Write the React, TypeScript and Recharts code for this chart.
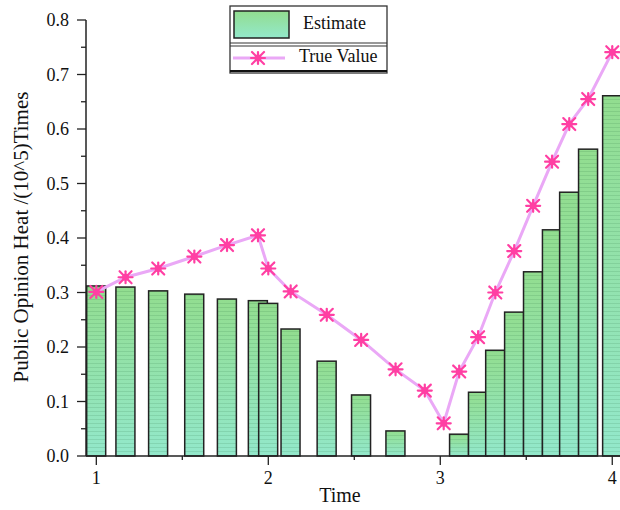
import React from 'react';
import { ComposedChart, Bar, Line, XAxis, YAxis } from 'recharts';

// time points (shared by both series)
const times = [1.0, 1.17, 1.36, 1.57, 1.76, 1.94, 2.0, 2.13, 2.34, 2.54, 2.74, 2.91, 3.02, 3.11, 3.22, 3.32, 3.43, 3.54, 3.65, 3.75, 3.86, 4.0];
// estimate bars (none at 2.91 and 3.02)
const estimate = [0.312, 0.310, 0.303, 0.297, 0.288, 0.285, 0.280, 0.233, 0.174, 0.112, 0.046, null, null, 0.040, 0.117, 0.194, 0.264, 0.338, 0.415, 0.484, 0.563, 0.661];
const trueValue = [0.301, 0.328, 0.344, 0.366, 0.387, 0.405, 0.344, 0.302, 0.259, 0.213, 0.159, 0.120, 0.060, 0.155, 0.218, 0.300, 0.376, 0.459, 0.540, 0.609, 0.655, 0.741];

const xTicks = [1, 1.5, 2, 2.5, 3, 3.5, 4];
const yTicks = [0, 0.05, 0.1, 0.15, 0.2, 0.25, 0.3, 0.35, 0.4, 0.45, 0.5, 0.55, 0.6, 0.65, 0.7, 0.75, 0.8];

const data = times.map((t, i) => ({ time: t, estimate: estimate[i], trueValue: trueValue[i] }));

const FONT = '"Liberation Serif", "Times New Roman", serif';
const LINE_COLOR = '#eaa8f6';
const MARK_COLOR = '#ff3fa3';
const BAR_W = 19;

function Star({ cx, cy }: { cx: number; cy: number }) {
  if (cx == null || cy == null) return null;
  return (
    <g stroke={MARK_COLOR} strokeWidth={2.2} strokeLinecap="round">
      <line x1={cx - 6} y1={cy - 6} x2={cx + 6} y2={cy + 6} />
      <line x1={cx - 6} y1={cy + 6} x2={cx + 6} y2={cy - 6} />
      <line x1={cx - 7} y1={cy} x2={cx + 7} y2={cy} />
      <line x1={cx} y1={cy - 6} x2={cx} y2={cy + 6} />
      <circle cx={cx} cy={cy} r={3.5} fill={MARK_COLOR} stroke="none" />
    </g>
  );
}

// recharts caps the bar width to the smallest gap, so widen around the centre
function BarShape(props: any) {
  const { x, y, width, height } = props;
  if (!height || height <= 0) return null;
  const bx = x + width / 2 - BAR_W / 2;
  return (
    <g>
      <rect x={bx} y={y} width={BAR_W} height={height} fill="url(#barGrad)" />
      <rect x={bx} y={y} width={BAR_W} height={height} fill="url(#stripes)" />
      <rect x={bx} y={y} width={BAR_W} height={height} fill="none" stroke="#222" strokeWidth={1.5} />
    </g>
  );
}

function YTick(props: any) {
  const { x, y, payload } = props;
  const major = Math.round(payload.value * 100) % 10 === 0;
  return (
    <g>
      <line x1={x} y1={y} x2={x - (major ? 9 : 5)} y2={y} stroke="#222" strokeWidth={1.3} />
      {major && (
        <text x={x - 17} y={y + 6} textAnchor="end" fontSize={18} fontFamily={FONT} fill="#111">
          {payload.value.toFixed(1)}
        </text>
      )}
    </g>
  );
}

function XTick(props: any) {
  const { x, y, payload } = props;
  const major = Number.isInteger(payload.value);
  return (
    <g>
      <line x1={x} y1={y} x2={x} y2={y + (major ? 9 : 4)} stroke="#222" strokeWidth={1.3} />
      {major && (
        <text x={x} y={y + 28} textAnchor="middle" fontSize={18} fontFamily={FONT} fill="#111">
          {payload.value}
        </text>
      )}
    </g>
  );
}

function LegendBox() {
  return (
    <svg width={160} height={70} style={{ position: 'absolute', left: 229, top: 5 }}>
      <rect x={1} y={1} width={157} height={67} fill="#fff" stroke="#333" strokeWidth={1.3} />
      <line x1={1} y1={38} x2={158} y2={38} stroke="#333" strokeWidth={1.2} />
      <line x1={1} y1={41} x2={158} y2={41} stroke="#333" strokeWidth={1.2} />
      <line x1={1} y1={66} x2={158} y2={66} stroke="#111" strokeWidth={2} />
      <rect x={5} y={6} width={55} height={27} fill="url(#legGrad)" stroke="#222" strokeWidth={1.5} />
      <text x={74} y={24} fontSize={18} fontFamily={FONT} fill="#111">Estimate</text>
      <line x1={4} y1={53} x2={56} y2={53} stroke={LINE_COLOR} strokeWidth={3} />
      <Star cx={29} cy={53} />
      <text x={70} y={57} fontSize={18} fontFamily={FONT} fill="#111">True Value</text>
      <defs>
        <linearGradient id="legGrad" x1="0" y1="0" x2="0" y2="1">
          <stop offset="0%" stopColor="#92dd8f" />
          <stop offset="100%" stopColor="#93e8cb" />
        </linearGradient>
      </defs>
    </svg>
  );
}

export default function App() {
  return (
    <div style={{ position: 'absolute', left: 0, top: 0, width: 620, height: 510, background: '#fff' }}>
      <ComposedChart width={620} height={510} data={data} margin={{ top: 20, right: 0, bottom: 0, left: 0 }}>
        <defs>
          <linearGradient id="barGrad" x1="0" y1="0" x2="0" y2="1">
            <stop offset="0%" stopColor="#92dd8f" />
            <stop offset="100%" stopColor="#93e8cb" />
          </linearGradient>
          <pattern id="stripes" width="4" height="4" patternUnits="userSpaceOnUse">
            <line x1="0" y1="3.5" x2="4" y2="3.5" stroke="rgba(20,90,50,0.13)" strokeWidth="1" />
          </pattern>
        </defs>
        <XAxis
          dataKey="time"
          type="number"
          domain={[0.94, 4.045]}
          ticks={xTicks}
          allowDataOverflow
          height={54}
          tickSize={0}
          tickMargin={0}
          tick={<XTick />}
          axisLine={{ stroke: '#222', strokeWidth: 1.5 }}
          tickLine={false}
          interval={0}
        />
        <YAxis
          type="number"
          domain={[0, 0.8]}
          ticks={yTicks}
          width={86}
          tickSize={0}
          tickMargin={0}
          tick={<YTick />}
          axisLine={{ stroke: '#222', strokeWidth: 1.5 }}
          tickLine={false}
          interval={0}
        />
        <Bar dataKey="estimate" shape={<BarShape />} isAnimationActive={false} />
        <Line
          dataKey="trueValue"
          type="linear"
          stroke={LINE_COLOR}
          strokeWidth={3}
          dot={(p: any) => <Star key={p.index} cx={p.cx} cy={p.cy} />}
          activeDot={false}
          isAnimationActive={false}
        />
      </ComposedChart>
      <LegendBox />
      <svg width={40} height={510} style={{ position: 'absolute', left: 0, top: 0 }}>
        <text
          x={21}
          y={237}
          transform="rotate(-90, 21, 237)"
          textAnchor="middle"
          dominantBaseline="central"
          fontSize={21}
          fontFamily={FONT}
          fill="#111"
        >
          Public Opinion Heat /(10^5)Times
        </text>
      </svg>
      <div
        style={{
          position: 'absolute',
          left: 0,
          width: 620,
          top: 484,
          textAlign: 'center',
          paddingLeft: 60,
          boxSizing: 'border-box',
          fontSize: 20,
          fontFamily: FONT,
          color: '#111',
        }}
      >
        Time
      </div>
    </div>
  );
}
